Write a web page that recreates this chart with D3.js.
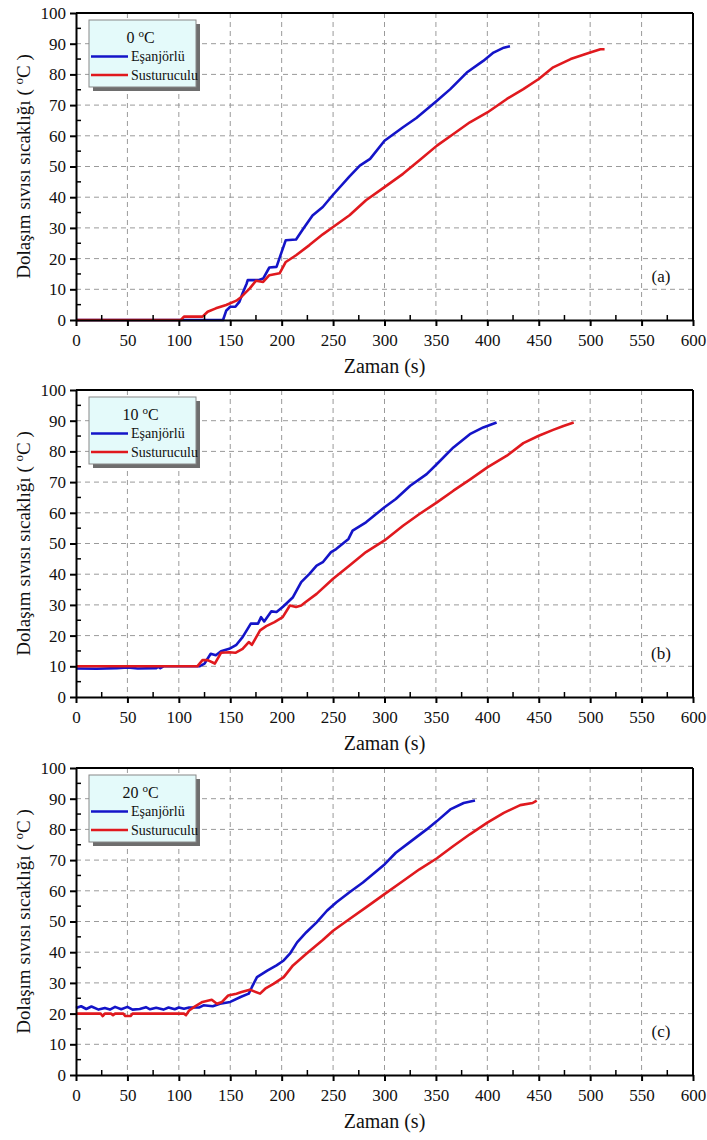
<!DOCTYPE html>
<html><head><meta charset="utf-8">
<script src="https://cdn.jsdelivr.net/npm/d3@7"></script>
<style>
body{margin:0;background:#fff}
svg{display:block}
svg text{font-family:"Liberation Serif","Times New Roman","DejaVu Serif",serif;}
</style>
</head><body>
<script>
// ---- data ----
const xTicks = [0,50,100,150,200,250,300,350,400,450,500,550,600];
const yTicks = [0,10,20,30,40,50,60,70,80,90,100];
const seriesNames = ["Eşanjörlü","Susturuculu"];
const panelTemps = ["0","10","20"];
const panelTags = ["(a)","(b)","(c)"];

const a_esanjorlu = [[0,0],[143,0],[146,3],[150,4.3],[155,4.3],[159,6],[162,8.7],[166,11.9],[167,13],[178,13],[182,13.5],[188,17.1],[195,17.3],[200,22.2],[204,26],[214,26.2],[221,29.7],[230,34],[240,36.8],[250,40.8],[266,46.8],[276,50.3],[286,52.5],[300,58.4],[318,62.8],[331,65.8],[351,71.4],[364,75.2],[380,80.6],[396,84.4],[406,87.1],[416,88.7],[422,89.2]];
const a_susturuculu = [[0,0],[102,0],[105,1.1],[123,1.1],[128,2.7],[136,3.8],[146,4.9],[156,6.3],[161,7.6],[169,10.3],[175,12.8],[182,12.4],[188,14.6],[198,15.2],[204,18.9],[214,21.1],[227,24.4],[240,27.9],[250,30.3],[266,34.1],[282,39],[300,43.3],[318,47.6],[334,52],[351,56.8],[367,60.6],[383,64.4],[400,67.6],[419,72],[435,75.2],[450,78.5],[464,82.3],[481,85],[500,87.1],[510,88.2],[514,88.2]];

const b_esanjorlu = [[0,9.3],[20,9.2],[40,9.4],[50,9.6],[60,9.3],[78,9.4],[80,9.9],[82,9.4],[85,10],[120,10],[125,10.9],[131,14.1],[136,13.6],[141,14.9],[149,15.7],[156,17],[162,19.5],[170,23.9],[177,23.9],[180,26],[183,24.6],[190,27.9],[195,27.7],[201,29.3],[211,32.5],[219,37.4],[227,40.1],[234,42.8],[240,43.9],[248,47.2],[253,48.2],[265,51.5],[269,54.2],[282,56.9],[300,61.8],[311,64.5],[325,68.8],[341,72.6],[351,75.9],[367,81.3],[383,85.6],[396,87.8],[409,89.4]];
const b_susturuculu = [[0,10],[118,10],[123,12],[128,12],[135,10.9],[141,14.4],[149,14.6],[155,14.4],[162,15.7],[168,17.9],[171,17],[179,21.7],[185,23.1],[193,24.4],[201,26],[208,29.8],[214,29.3],[219,29.8],[224,31.1],[234,33.6],[250,38.5],[266,42.8],[282,47.2],[300,51],[318,55.8],[334,59.6],[351,63.4],[367,67.2],[383,70.8],[400,74.8],[419,78.6],[435,82.7],[450,85.1],[464,87],[474,88.3],[484,89.4]];

const c_esanjorlu = [[0,21.8],[5,22.4],[10,21.5],[15,22.3],[22,21.3],[28,21.8],[33,21.3],[38,22.2],[44,21.4],[50,22.2],[55,21.3],[62,21.5],[68,22.1],[72,21.4],[78,21.9],[85,21.3],[90,22],[96,21.4],[100,22],[105,21.6],[110,22],[120,22],[124,22.7],[133,22.4],[140,23.2],[150,23.8],[160,25.4],[168,26.5],[171,28.6],[176,31.9],[186,34],[195,35.7],[202,37.3],[208,39.5],[215,43.2],[224,46.5],[234,49.7],[244,53.5],[253,56.2],[266,59.5],[279,62.7],[300,68.6],[311,72.4],[324,75.7],[341,80],[351,82.7],[364,86.5],[377,88.6],[388,89.4]];
const c_susturuculu = [[0,20],[24,20],[26,19.2],[28,20],[34,20],[36,19.5],[38,20],[46,20],[48,19.2],[53,19.2],[55,20],[105,20],[107,19.5],[110,21],[115,22.2],[123,23.8],[132,24.5],[137,23.2],[142,23.8],[148,25.9],[156,26.5],[161,27],[169,27.8],[179,26.5],[184,28.1],[192,29.7],[202,31.9],[211,35.7],[224,39.5],[240,44],[250,47],[266,50.8],[282,54.6],[300,58.9],[318,63.2],[334,67],[351,70.6],[367,74.6],[383,78.4],[400,82.2],[416,85.4],[432,87.9],[444,88.6],[448,89.4]];

const panelData = [[a_esanjorlu,a_susturuculu],[b_esanjorlu,b_susturuculu],[c_esanjorlu,c_susturuculu]];
const colors = ["#1414c8","#e0191e"];

// ---- layout ----
const W = 707, H = 1140;
const x0 = 76, x1 = 693;
const panelTops = [13, 390, 768];
const ph = 307;

const svg = d3.select("body").append("svg").attr("width", W).attr("height", H);
svg.append("rect").attr("width", W).attr("height", H).attr("fill", "#fff");

const x = d3.scaleLinear().domain([0,600]).range([x0,x1]);

panelData.forEach((series, pi) => {
  const top = panelTops[pi], bot = top + ph;
  const y = d3.scaleLinear().domain([0,100]).range([bot, top]);
  const g = svg.append("g");

  // grid
  g.append("g").selectAll("line").data(xTicks.filter(t => t>0 && t<600)).join("line")
    .attr("x1", d=>x(d)).attr("x2", d=>x(d)).attr("y1", top).attr("y2", bot)
    .attr("stroke", "#9a9a9a").attr("stroke-width", 1).attr("stroke-dasharray", "5,4");
  g.append("g").selectAll("line").data(yTicks.filter(t => t>0 && t<100)).join("line")
    .attr("x1", x0).attr("x2", x1).attr("y1", d=>y(d)).attr("y2", d=>y(d))
    .attr("stroke", "#9a9a9a").attr("stroke-width", 1).attr("stroke-dasharray", "5,4");

  // lines
  const line = d3.line().x(d=>x(d[0])).y(d=>y(d[1]));
  series.forEach((s, si) => {
    g.append("path").datum(s).attr("d", line).attr("fill","none")
      .attr("stroke", colors[si]).attr("stroke-width", 2.6).attr("stroke-linejoin","round");
  });

  // axes
  const xAxis = d3.axisBottom(x).tickValues(xTicks).tickSize(6).tickSizeOuter(0).tickPadding(8);
  const gx = g.append("g").attr("transform", `translate(0,${bot})`).call(xAxis);
  const yAxis = d3.axisLeft(y).tickValues(yTicks).tickSize(6).tickSizeOuter(0).tickPadding(4);
  const gy = g.append("g").attr("transform", `translate(${x0},0)`).call(yAxis);
  [gx, gy].forEach(a => {
    a.attr("font-family", null).attr("font-size", null);
    a.select(".domain").attr("stroke","#000").attr("stroke-width",2);
    a.selectAll(".tick line").attr("stroke","#000").attr("stroke-width",2);
    a.selectAll("text").attr("font-size", 17).attr("fill","#111");
  });
  // minor ticks (inside)
  const xMinor = d3.range(25, 600, 50);
  g.append("g").selectAll("line").data(xMinor).join("line")
    .attr("x1", d=>x(d)).attr("x2", d=>x(d)).attr("y1", bot).attr("y2", bot-5)
    .attr("stroke","#000").attr("stroke-width",1.5);
  const yMinor = d3.range(5, 100, 10);
  g.append("g").selectAll("line").data(yMinor).join("line")
    .attr("x1", x0).attr("x2", x0+5).attr("y1", d=>y(d)).attr("y2", d=>y(d))
    .attr("stroke","#000").attr("stroke-width",1.5);
  // top & right frame
  g.append("line").attr("x1", x0).attr("x2", x1).attr("y1", top).attr("y2", top).attr("stroke","#000").attr("stroke-width",2);
  g.append("line").attr("x1", x1).attr("x2", x1).attr("y1", top).attr("y2", bot).attr("stroke","#000").attr("stroke-width",2);

  // axis titles
  g.append("text").attr("x", (x0+x1)/2).attr("y", bot+53).attr("text-anchor","middle")
    .attr("font-size", 20).attr("fill","#111").text("Zaman (s)");
  const yl = g.append("text").attr("transform", `translate(30,${(top+bot)/2}) rotate(-90)`)
    .attr("text-anchor","middle").attr("font-size", 19).attr("fill","#111");
  yl.append("tspan").text("Dolaşım sıvısı sıcaklığı ( ");
  yl.append("tspan").attr("font-size", 13).attr("dy", -7).text("o");
  yl.append("tspan").attr("dy", 7).text("C )");

  // panel tag
  g.append("text").attr("x", 661).attr("y", bot-38).attr("text-anchor","middle")
    .attr("font-size", 17).attr("fill","#111").text(panelTags[pi]);

  // legend
  const lx = 89, ly = top + 7, lw = 107, lh = 67;
  g.append("rect").attr("x", lx+4).attr("y", ly+4).attr("width", lw).attr("height", lh).attr("fill","#6e6e6e");
  g.append("rect").attr("x", lx).attr("y", ly).attr("width", lw).attr("height", lh)
    .attr("fill","#e4fafa").attr("stroke","#888").attr("stroke-width",1);
  const tt = g.append("text").attr("x", lx+lw/2-2).attr("y", ly+23).attr("text-anchor","middle")
    .attr("font-size", 16).attr("fill","#111");
  tt.append("tspan").text(panelTemps[pi] + " ");
  tt.append("tspan").attr("font-size", 11).attr("dy", -6).text("o");
  tt.append("tspan").attr("dy", 6).text("C");
  seriesNames.forEach((nm, si) => {
    const yy = ly + 36.5 + si*18.5;
    g.append("line").attr("x1", lx+2).attr("x2", lx+39).attr("y1", yy).attr("y2", yy)
      .attr("stroke", colors[si]).attr("stroke-width", 2.6);
    g.append("text").attr("x", lx+42).attr("y", yy+4.5).attr("font-size", 14).attr("fill","#111").text(nm);
  });
});
</script>
</body></html>
